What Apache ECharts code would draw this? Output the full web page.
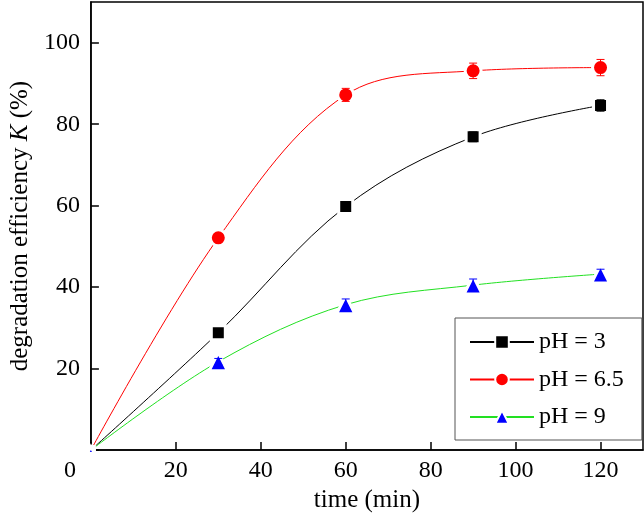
<!DOCTYPE html>
<html><head><meta charset="utf-8">
<script src="https://cdn.jsdelivr.net/npm/echarts@6/dist/echarts.min.js"></script>
<style>html,body{margin:0;padding:0;background:#fff}#c{width:644px;height:518px}</style>
</head><body><div id="c"></div>
<script>
const times = [0, 30, 60, 90, 120];
const seriesNames = ['pH = 3', 'pH = 6.5', 'pH = 9'];
const ph3 = [0, 28.8, 59.8, 76.9, 84.6];
const ph65 = [0, 52.1, 87.2, 93.1, 93.9];
const ph9 = [0, 21.7, 35.7, 40.5, 43.2];
const err3 = [0, 0.9, 1.0, 1.2, 1.4];
const err65 = [0, 0.9, 1.6, 1.9, 2.0];
const err9 = [0, 0.8, 1.4, 1.5, 1.2];
const xTickLabels = ['0', '20', '40', '60', '80', '100', '120'];
const yTickLabels = ['20', '40', '60', '80', '100'];

const FONT = 'Liberation Serif';
const chart = echarts.init(document.getElementById('c'), null, {renderer: 'canvas'});

function lineSeries(name, vals, symbol, lineColor, markColor, size) {
  return {
    type: 'line', name: name,
    data: times.map((t, i) => [t, vals[i]]),
    smooth: 0.35,
    symbol: symbol,
    symbolSize: (v, p) => p.dataIndex === 0 ? 7 : size,
    lineStyle: {color: lineColor, width: 1},
    itemStyle: {color: markColor, borderColor: '#fff', borderWidth: 3},
    z: 3
  };
}
function errSeries(vals, errs, color) {
  return {
    type: 'custom', silent: true, z: 5,
    data: times.map((t, i) => [t, vals[i], errs[i]]).filter(d => d[2] > 0),
    renderItem: function (params, api) {
      const x = api.value(0), y = api.value(1), e = api.value(2);
      const top = api.coord([x, y + e]);
      const bot = api.coord([x, y - e]);
      const hw = 4;
      const st = {stroke: color, lineWidth: 1};
      return {type: 'group', children: [
        {type: 'line', shape: {x1: top[0], y1: top[1], x2: bot[0], y2: bot[1]}, style: st},
        {type: 'line', shape: {x1: top[0] - hw, y1: top[1], x2: top[0] + hw, y2: top[1]}, style: st},
        {type: 'line', shape: {x1: bot[0] - hw, y1: bot[1], x2: bot[0] + hw, y2: bot[1]}, style: st}
      ]};
    }
  };
}

const option = {
  backgroundColor: '#fff',
  animation: false,
  grid: {left: 85, right: 1, top: 2, bottom: 62.5, show: true, borderColor: '#000', borderWidth: 1.5},
  legend: {
    data: seriesNames,
    orient: 'vertical', left: 455, top: 318,
    padding: [12, 18, 11, 14],
    itemWidth: 64, itemHeight: 17, itemGap: 13.5,
    borderColor: '#555', borderWidth: 1,
    textStyle: {fontFamily: FONT, fontSize: 24, color: '#000', lineHeight: 24}
  },
  xAxis: {
    type: 'value', min: 0, max: 130, interval: 20,
    name: 'time (min)', nameLocation: 'middle', nameGap: 36,
    nameTextStyle: {fontFamily: FONT, fontSize: 25, color: '#000'},
    axisLine: {lineStyle: {color: '#000', width: 1.5}},
    axisTick: {inside: true, length: 8, lineStyle: {color: '#000', width: 1.5}},
    splitLine: {show: false},
    axisLabel: {
      fontFamily: FONT, fontSize: 24, color: '#000', margin: 9, showMaxLabel: false,
      formatter: v => { const s = String(v); if (v === 0) return '{z|0}'; return xTickLabels.indexOf(s) >= 0 ? s : ''; },
      rich: {z: {fontFamily: FONT, fontSize: 24, color: '#000', padding: [0, 42, 0, 0]}}
    }
  },
  yAxis: {
    type: 'value', min: 0, max: 110, interval: 20,
    name: '{a|degradation efficiency }{k|K}{a| (%)}', nameLocation: 'middle', nameGap: 52, nameRotate: 90,
    nameTextStyle: {rich: {
      a: {fontFamily: FONT, fontSize: 25, color: '#000'},
      k: {fontFamily: FONT, fontSize: 25, color: '#000', fontStyle: 'italic'}
    }},
    axisLine: {lineStyle: {color: '#000', width: 1.5}},
    axisTick: {inside: true, length: 8, lineStyle: {color: '#000', width: 1.5}},
    splitLine: {show: false},
    axisLabel: {
      fontFamily: FONT, fontSize: 24, color: '#000', margin: 11, showMaxLabel: false,
      formatter: v => { const s = String(v); return yTickLabels.indexOf(s) >= 0 ? s : ''; }
    }
  },
  series: [
    lineSeries(seriesNames[0], ph3, 'rect', '#000000', '#000000', 14),
    lineSeries(seriesNames[1], ph65, 'circle', '#ff0000', '#ff0000', 16),
    lineSeries(seriesNames[2], ph9, 'triangle', '#22e022', '#0000ff', 18),
    errSeries(ph3, err3, '#000000'),
    errSeries(ph65, err65, '#ff0000'),
    errSeries(ph9, err9, '#0000ff')
  ]
};
chart.setOption(option);
</script>
</body></html>
